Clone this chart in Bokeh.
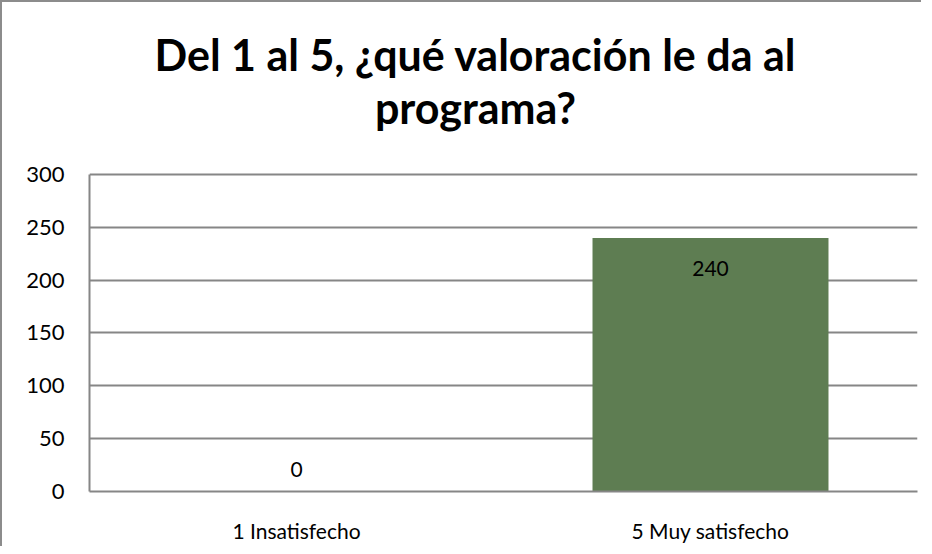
from bokeh.plotting import figure
from bokeh.models import ColumnDataSource, Label, LabelSet, FixedTicker
from bokeh.embed import file_html
from bokeh.resources import INLINE
from bokeh.core.properties import value

categories = ["1 Insatisfecho", "5 Muy satisfecho"]
counts = [0, 240]
label_text = ["0", "240"]
y_ticks = [0, 50, 100, 150, 200, 250, 300]
title_lines = ["Del 1 al 5, ¿qué valoración le da al", "programa?"]

FONT = "Lato"
GRID = "#868686"

src = ColumnDataSource(dict(cat=categories, val=counts, txt=label_text,
                            yoff=[22 if c == 0 else -31 for c in counts]))

p = figure(x_range=categories, y_range=(0, 453.3), width=921, height=546,
           output_backend="svg", toolbar_location=None,
           min_border_left=87, min_border_right=6, min_border_top=10, min_border_bottom=57)
p.styles = {"border-left": "2px solid #8c8c8c", "border-top": "2px solid #8c8c8c"}
p.outline_line_color = None
p.x_range.range_padding = 0

p.vbar(x="cat", top="val", width=0.57, source=src, color="#5E7D52", line_color=None)

p.yaxis.ticker = FixedTicker(ticks=y_ticks)
p.yaxis.bounds = (0, 300)
p.ygrid.grid_line_color = GRID
p.ygrid.grid_line_width = 2
p.xgrid.grid_line_color = None
for ax in (p.xaxis[0], p.yaxis[0]):
    ax.axis_line_color = GRID
    ax.axis_line_width = 2
    ax.major_tick_line_color = None
    ax.minor_tick_line_color = None
    ax.major_tick_out = 0
    ax.major_tick_in = 0
    ax.major_label_text_font = FONT
    ax.major_label_text_color = "#000000"
p.yaxis.major_label_text_font_size = "22px"
p.xaxis.major_label_text_font_size = "21px"
p.yaxis.major_label_standoff = 25
p.xaxis.major_label_standoff = 26

labels = LabelSet(x="cat", y="val", y_offset="yoff", text="txt", source=src,
                  text_align="center", text_baseline="middle", text_font=value(FONT),
                  text_font_size="21px", text_color="#000000")
p.add_layout(labels)

for i, line in enumerate(title_lines):
    p.add_layout(Label(x=386, y=437 - i * 53, x_units="screen", y_units="screen",
                       text=line, text_align="center", text_baseline="alphabetic",
                       text_font=FONT, text_font_style="bold", text_font_size="43px",
                       text_color="#000000"))

open("out.html", "w").write(file_html(p, INLINE))
